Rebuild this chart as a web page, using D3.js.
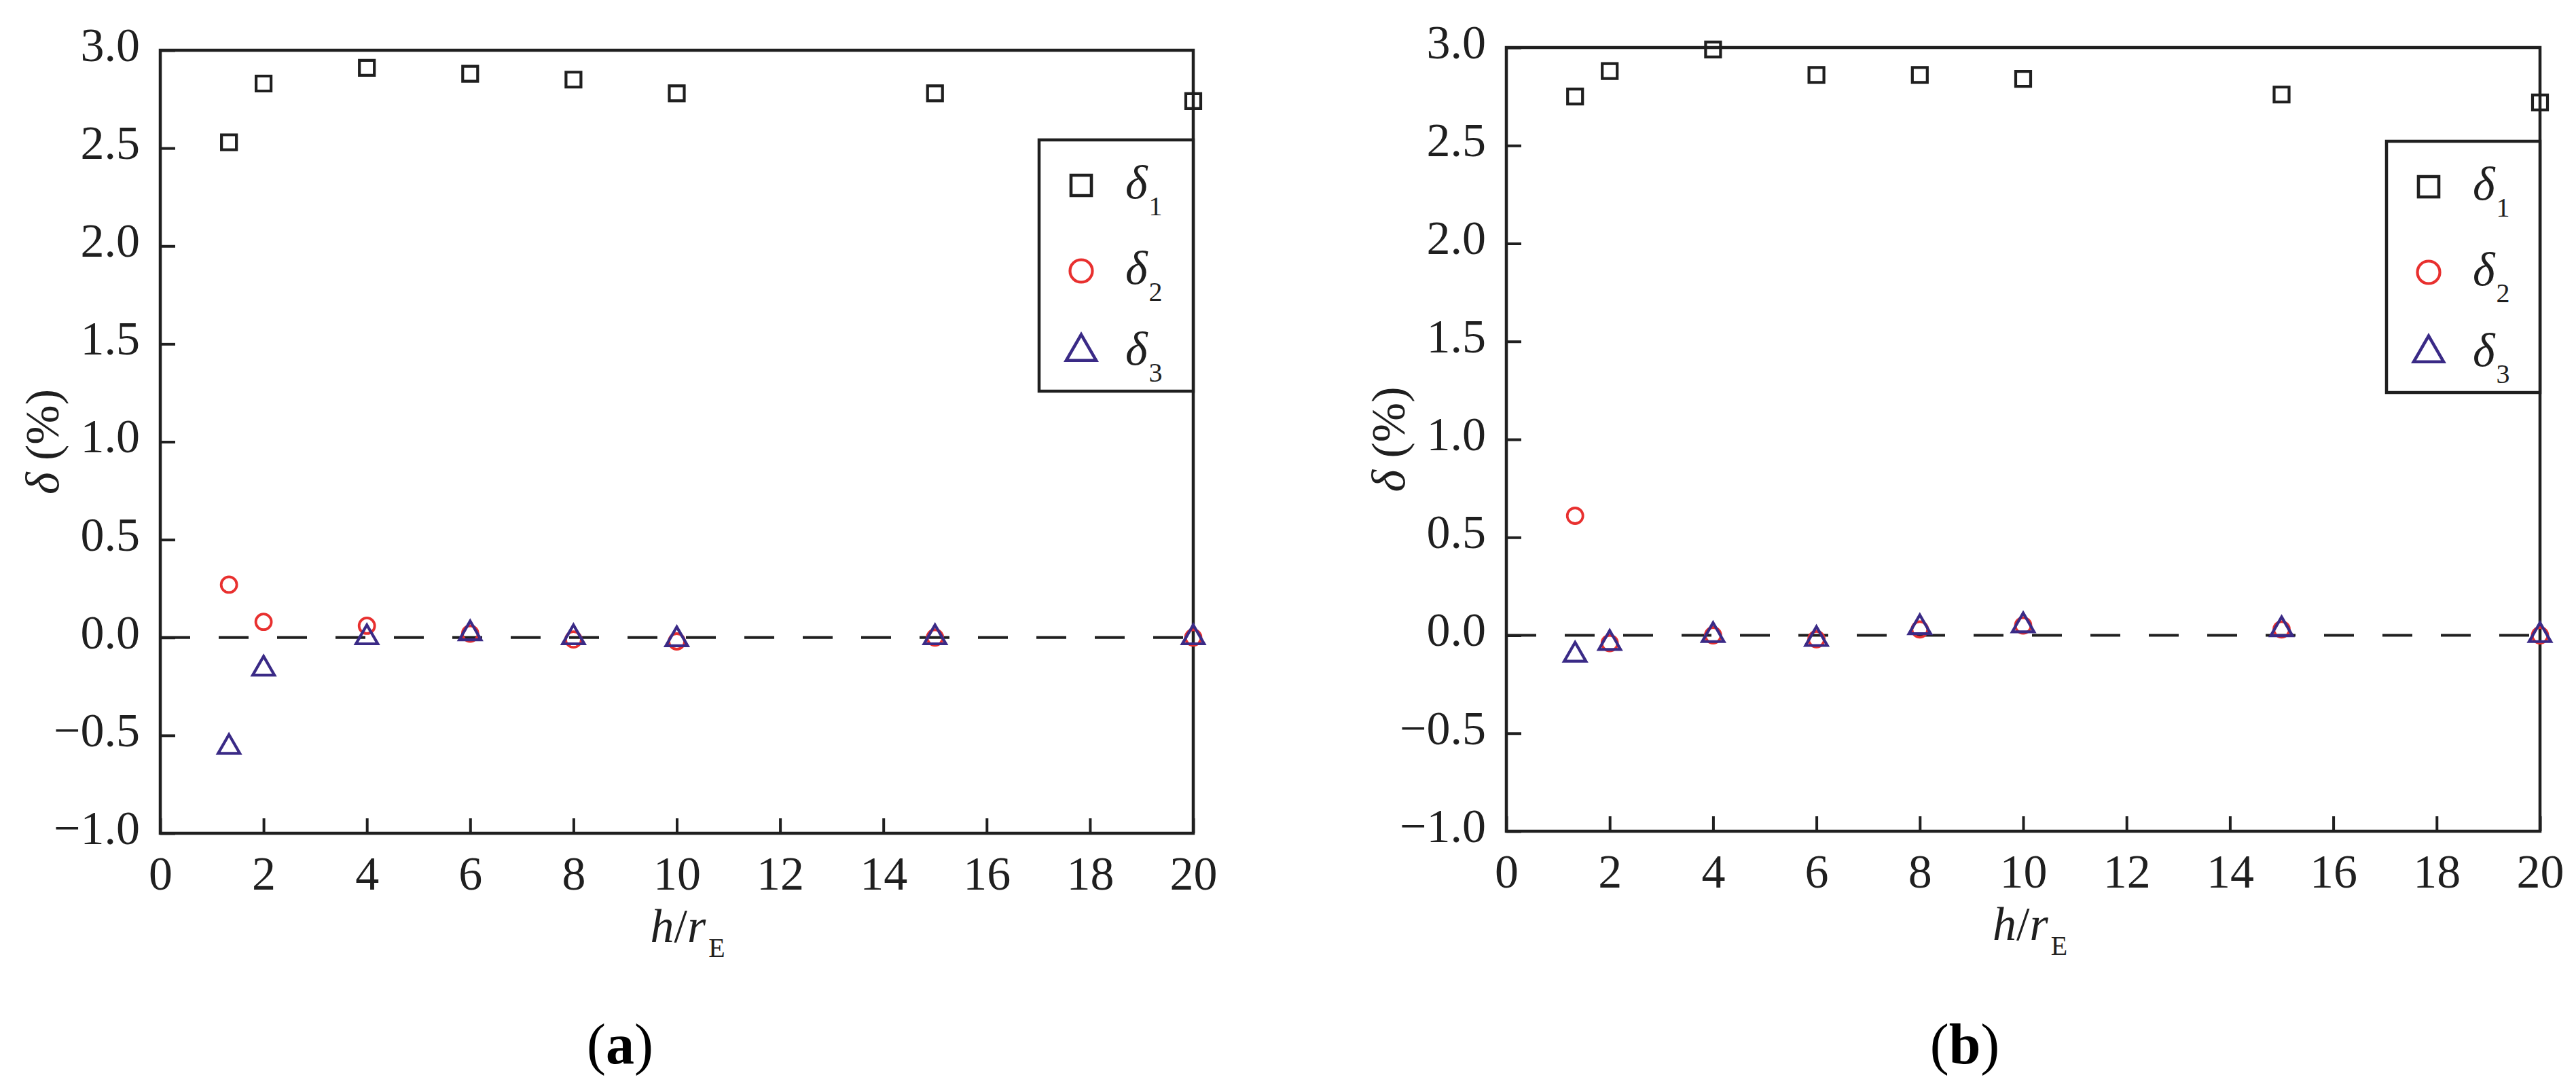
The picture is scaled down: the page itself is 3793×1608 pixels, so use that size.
<!DOCTYPE html>
<html>
<head>
<meta charset="utf-8">
<script src="https://cdn.jsdelivr.net/npm/d3@7"></script>
<style>
  html, body { margin: 0; padding: 0; background: #ffffff; }
  svg { display: block; }
</style>
</head>
<body>
<svg id="chart" width="3793" height="1608"></svg>
<script>
// ---------------- data ----------------
const hValues = [1.33, 2, 4, 6, 8, 10, 15, 20];

const deltaA1 = [2.53, 2.83, 2.91, 2.88, 2.85, 2.78, 2.78, 2.74];
const deltaA2 = [0.27, 0.08, 0.06, 0.02, -0.01, -0.02, 0.00, 0.00];
const deltaA3 = [-0.56, -0.16, 0.00, 0.02, 0.00, -0.01, 0.00, 0.00];

const deltaB1 = [2.75, 2.88, 2.99, 2.86, 2.86, 2.84, 2.76, 2.72];
const deltaB2 = [0.61, -0.04, 0.00, -0.02, 0.03, 0.05, 0.03, 0.00];
const deltaB3 = [-0.10, -0.04, 0.00, -0.02, 0.04, 0.05, 0.03, 0.00];

const xTickValues = [0, 2, 4, 6, 8, 10, 12, 14, 16, 18, 20];
const yTickValues = [-1.0, -0.5, 0.0, 0.5, 1.0, 1.5, 2.0, 2.5, 3.0];
const seriesNames = ["1", "2", "3"];
const panelLabels = ["a", "b"];

// ---------------- layout / style ----------------
const FONT = "'Liberation Serif', 'Times New Roman', serif";
const INK = "#1f1f1f";
const colors = ["#1f1f1f", "#e8302f", "#3a2a86"];
const symbolTypes = [d3.symbolSquare, d3.symbolCircle, d3.symbolTriangle];
const plotSizes = [22 * 22, Math.PI * 11.5 * 11.5, 0.433 * 32 * 32];
const legendSizes = [30 * 30, Math.PI * 16.5 * 16.5, 0.433 * 44 * 44];
const strokeWidths = [4.2, 3.8, 4.2];

const panels = [
  { left: 236, top: 74, right: 1757, bottom: 1227, legX: 1530, legY0: 206, legY1: 576, labelX: 913,
    series: [deltaA1, deltaA2, deltaA3], label: panelLabels[0], titleDx: 16 },
  { left: 2218, top: 70, right: 3740, bottom: 1224, legX: 3514, legY0: 208, legY1: 578, labelX: 2893,
    series: [deltaB1, deltaB2, deltaB3], label: panelLabels[1], titleDx: 10 }
];

const svg = d3.select("#chart");
svg.append("rect").attr("width", 3793).attr("height", 1608).attr("fill", "#ffffff");

panels.forEach(p => {
  const g = svg.append("g");
  const x = d3.scaleLinear().domain([0, 20]).range([p.left, p.right]);
  const y = d3.scaleLinear().domain([-1, 3]).range([p.bottom, p.top]);

  // dashed zero line
  g.append("line")
    .attr("x1", x(0)).attr("x2", x(20))
    .attr("y1", y(0)).attr("y2", y(0))
    .attr("stroke", INK).attr("stroke-width", 4)
    .attr("stroke-dasharray", "44,42");

  // axes (inward ticks)
  const xAxis = d3.axisBottom(x).tickValues(xTickValues).tickFormat(d3.format("d"))
    .tickSizeInner(-22).tickSizeOuter(0).tickPadding(34);
  const yAxis = d3.axisLeft(y).tickValues(yTickValues)
    .tickFormat(d => d3.format(".1f")(d).replace("-", "\u2212"))
    .tickSizeInner(-22).tickSizeOuter(0).tickPadding(30);

  const gx = g.append("g").attr("transform", `translate(0,${p.bottom})`).call(xAxis);
  const gy = g.append("g").attr("transform", `translate(${p.left},0)`).call(yAxis);
  [gx, gy].forEach(a => {
    a.attr("font-family", FONT).attr("font-size", 70);
    a.select(".domain").remove();
    a.selectAll(".tick line").attr("stroke", INK).attr("stroke-width", 4);
    a.selectAll(".tick text").attr("fill", INK).style("font-family", FONT).style("font-size", "70px");
  });
  gy.selectAll(".tick text").attr("dy", "0.22em");
  gx.selectAll(".tick text").attr("dy", "0.70em");

  // frame
  g.append("rect")
    .attr("x", p.left).attr("y", p.top)
    .attr("width", p.right - p.left).attr("height", p.bottom - p.top)
    .attr("fill", "none").attr("stroke", INK).attr("stroke-width", 4.5);

  // legend box
  g.append("rect")
    .attr("x", p.legX).attr("y", p.legY0)
    .attr("width", p.right - p.legX).attr("height", p.legY1 - p.legY0)
    .attr("fill", "#ffffff").attr("stroke", INK).attr("stroke-width", 4.5);

  const rowOffsets = [67, 193, 312];
  seriesNames.forEach((name, i) => {
    const cy = p.legY0 + rowOffsets[i];
    g.append("path")
      .attr("d", d3.symbol().type(symbolTypes[i]).size(legendSizes[i])())
      .attr("transform", `translate(${p.legX + 62},${cy})`)
      .attr("fill", "none").attr("stroke", colors[i]).attr("stroke-width", strokeWidths[i] + 0.4);
    const t = g.append("text")
      .attr("x", p.legX + 127).attr("y", cy + 19)
      .attr("fill", INK).style("font-family", FONT).style("font-size", "70px");
    t.append("tspan").style("font-style", "italic").text("\u03b4");
    t.append("tspan").attr("dx", 2).attr("dy", 25).style("font-size", "40px").text(name);
  });

  // data markers
  p.series.forEach((vals, i) => {
    g.append("g").selectAll("path")
      .data(hValues.map((h, k) => [h, vals[k]]))
      .join("path")
      .attr("d", d3.symbol().type(symbolTypes[i]).size(plotSizes[i]))
      .attr("transform", d => `translate(${x(d[0])},${y(d[1])})`)
      .attr("fill", "none").attr("stroke", colors[i]).attr("stroke-width", strokeWidths[i]);
  });

  // y-axis title
  const yt = g.append("text")
    .attr("transform", `translate(${p.left - 150},${(p.top + p.bottom) / 2}) rotate(-90)`)
    .attr("text-anchor", "middle").attr("fill", INK)
    .style("font-family", FONT).style("font-size", "70px");
  yt.append("tspan").style("font-style", "italic").text("\u03b4");
  yt.append("tspan").text(" (%)");

  // x-axis title
  const xt = g.append("text")
    .attr("x", x(10) + p.titleDx).attr("y", p.bottom + 160)
    .attr("text-anchor", "middle").attr("fill", INK)
    .style("font-family", FONT).style("font-size", "70px");
  xt.append("tspan").style("font-style", "italic").text("h");
  xt.append("tspan").text("/");
  xt.append("tspan").style("font-style", "italic").text("r");
  xt.append("tspan").attr("dx", 4).attr("dy", 22).style("font-size", "40px").text("E");

  // panel label
  const pl = svg.append("text")
    .attr("x", p.labelX).attr("y", 1566)
    .attr("text-anchor", "middle").attr("fill", "#000")
    .style("font-family", FONT).style("font-size", "84px");
  pl.append("tspan").text("(");
  pl.append("tspan").style("font-weight", "bold").text(p.label);
  pl.append("tspan").text(")");
});
</script>
</body>
</html>
